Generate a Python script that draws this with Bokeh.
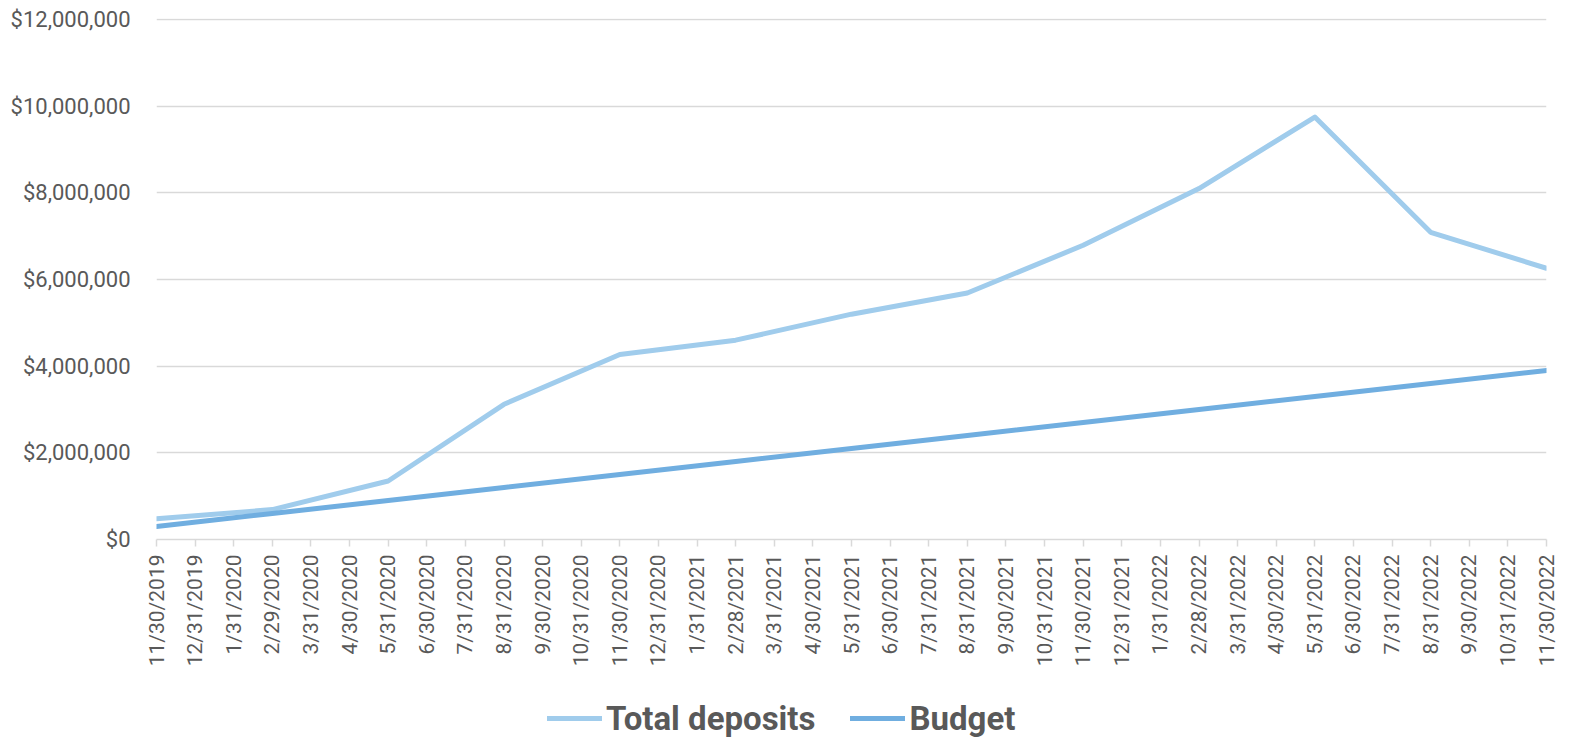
import math
from bokeh.plotting import figure
from bokeh.layouts import column
from bokeh.models import Range1d, FixedTicker, NumeralTickFormatter, Legend, LegendItem, ColumnDataSource
from bokeh.embed import file_html
from bokeh.resources import INLINE

# ---- data ----
months = [
    "11/30/2019", "12/31/2019", "1/31/2020", "2/29/2020", "3/31/2020", "4/30/2020",
    "5/31/2020", "6/30/2020", "7/31/2020", "8/31/2020", "9/30/2020", "10/31/2020",
    "11/30/2020", "12/31/2020", "1/31/2021", "2/28/2021", "3/31/2021", "4/30/2021",
    "5/31/2021", "6/30/2021", "7/31/2021", "8/31/2021", "9/30/2021", "10/31/2021",
    "11/30/2021", "12/31/2021", "1/31/2022", "2/28/2022", "3/31/2022", "4/30/2022",
    "5/31/2022", "6/30/2022", "7/31/2022", "8/31/2022", "9/30/2022", "10/31/2022",
    "11/30/2022",
]
point_dates = [
    "11/30/2019", "2/29/2020", "5/31/2020", "8/31/2020", "11/30/2020", "2/28/2021",
    "5/31/2021", "8/31/2021", "11/30/2021", "2/28/2022", "5/31/2022", "8/31/2022",
    "11/30/2022",
]
total_deposits = [480000, 690000, 1350000, 3120000, 4270000, 4600000,
                  5200000, 5690000, 6790000, 8100000, 9750000, 7090000, 6260000]
budget = [300000, 600000, 900000, 1200000, 1500000, 1800000,
          2100000, 2400000, 2700000, 3000000, 3300000, 3600000, 3900000]
y_ticks = [0, 2000000, 4000000, 6000000, 8000000, 10000000, 12000000]
series_names = ["Total deposits", "Budget"]
series_colors = ["#A0CCEC", "#70AEE0"]

FONT = "Roboto"
GRAY = "#595959"
GRID = "#D9D9D9"

x_idx = [months.index(d) for d in point_dates]
src = ColumnDataSource(dict(x=x_idx, dep=total_deposits, bud=budget))

W = 1569
PH = 672
# tiny headroom above the top tick so its gridline is not clipped at the frame edge
p = figure(width=W, height=PH, output_backend="svg", toolbar_location=None,
           x_range=Range1d(0, len(months) - 1),
           y_range=Range1d(y_ticks[0], y_ticks[-1] * 1.002),
           min_border_left=156, min_border_right=23, min_border_top=18, min_border_bottom=133)
p.outline_line_color = None
p.background_fill_color = "white"
p.border_fill_color = "white"

p.line("x", "dep", source=src, line_color=series_colors[0], line_width=5,
       line_join="round", line_cap="round")
p.line("x", "bud", source=src, line_color=series_colors[1], line_width=5,
       line_join="round", line_cap="round")

# x axis
p.xaxis.ticker = FixedTicker(ticks=list(range(len(months))))
p.xaxis.major_label_overrides = {i: m for i, m in enumerate(months)}
p.xaxis.major_label_orientation = math.pi / 2
p.xaxis.major_label_text_font = FONT
p.xaxis.major_label_text_font_size = "21px"
p.xaxis.major_label_text_color = GRAY
p.xaxis.major_label_standoff = 8
p.xaxis.axis_line_color = GRID
p.xaxis.axis_line_width = 1.5
p.xaxis.major_tick_line_color = GRID
p.xaxis.major_tick_line_width = 1.5
p.xaxis.major_tick_in = 0
p.xaxis.major_tick_out = 7
p.xaxis.minor_tick_line_color = None
p.xgrid.grid_line_color = None

# y axis
p.yaxis.ticker = FixedTicker(ticks=y_ticks)
p.yaxis.formatter = NumeralTickFormatter(format="$0,0")
p.yaxis.major_label_text_font = FONT
p.yaxis.major_label_text_font_size = "22px"
p.yaxis.major_label_text_color = GRAY
p.yaxis.major_label_standoff = 26
p.yaxis.axis_line_color = None
p.yaxis.major_tick_line_color = None
p.yaxis.major_tick_in = 0
p.yaxis.major_tick_out = 0
p.yaxis.minor_tick_line_color = None
p.ygrid.grid_line_color = GRID
p.ygrid.grid_line_width = 1.5

# legend strip (separate figure so the legend is not clipped by the plot frame)
LH = 739 - PH
lg = figure(width=W, height=LH, output_backend="svg", toolbar_location=None,
            x_axis_type=None, y_axis_type=None, x_range=Range1d(0, 1), y_range=Range1d(0, 1),
            min_border_left=0, min_border_right=0, min_border_top=0, min_border_bottom=0)
lg.outline_line_color = None
lg.grid.grid_line_color = None
items = []
for name, col in zip(series_names, series_colors):
    # proxy renderer (single point outside the visible range) used only for the legend swatch
    r = lg.line(x=[0], y=[-1], line_color=col, line_width=5, line_cap="round")
    items.append(LegendItem(label=name, renderers=[r]))
legend = Legend(items=items, orientation="horizontal", location=(391, 1))
legend.label_text_font = FONT
legend.label_text_font_style = "bold"
legend.label_text_font_size = "33px"
legend.label_text_color = GRAY
legend.glyph_width = 55
legend.glyph_height = 40
legend.label_height = 40
legend.label_standoff = 4
legend.spacing = 35
legend.padding = 0
legend.margin = 0
legend.border_line_color = None
legend.background_fill_alpha = 0
lg.add_layout(legend, "center")

layout = column(p, lg, spacing=0)
open("out.html", "w").write(file_html(layout, INLINE))
